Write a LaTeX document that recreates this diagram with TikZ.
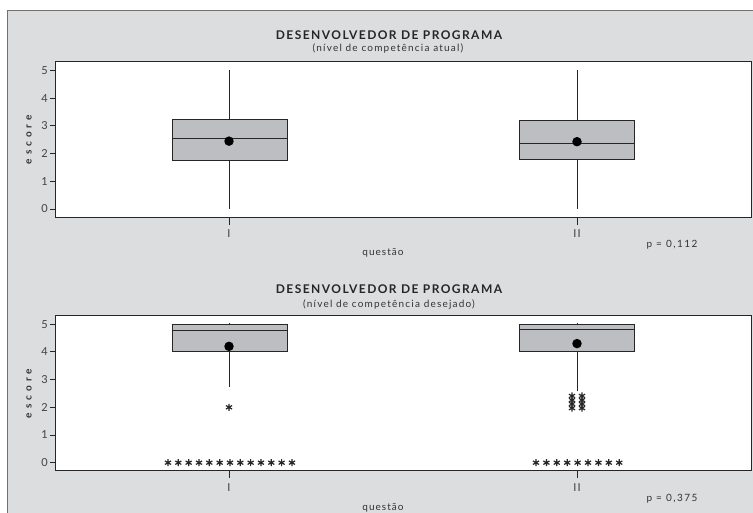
\documentclass[tikz,border=0pt]{standalone}
\usepackage{fontspec}
\setmainfont{Lato}
\definecolor{bgc}{HTML}{DCDDDF}
\definecolor{framec}{HTML}{707070}
\definecolor{boxc}{HTML}{BDBEC1}
\tikzset{
  frameline/.style={draw=framec, line width=1pt},
  plotbox/.style={fill=white, draw=black!85, line width=0.9pt},
  qbox/.style={fill=boxc, draw=black!85, line width=0.9pt},
  whisk/.style={draw=black!85, line width=0.9pt},
  meandot/.style={circle, fill=black, inner sep=0pt, minimum size=9.5pt},
  ticklab/.style={font=\fontsize{11}{11}\selectfont\addfontfeature{LetterSpace=10}, text=black!75, inner sep=0pt},
  ttl/.style={font=\bfseries\fontsize{12}{12}\selectfont\addfontfeature{LetterSpace=12}, text=black!85, inner sep=0pt},
  subttl/.style={font=\fontsize{10}{10}\selectfont\addfontfeature{LetterSpace=12}, text=black!80, inner sep=0pt},
  axlab/.style={font=\fontsize{10}{10}\selectfont\addfontfeature{LetterSpace=10}, text=black!80, inner sep=0pt},
  ylab/.style={font=\bfseries\fontsize{10}{10}\selectfont\addfontfeature{LetterSpace=40}, text=black!80, inner sep=0pt, rotate=90},
  pval/.style={font=\fontsize{10}{10}\selectfont\addfontfeature{LetterSpace=15}, text=black!80, inner sep=0pt},
  ast/.pic={\draw[line width=1.2pt, black!85]
     (0,-3.5pt) -- (0,3.5pt) (-3.05pt,-1.75pt) -- (3.05pt,1.75pt) (-3.05pt,1.75pt) -- (3.05pt,-1.75pt);}
}
\begin{document}
\begin{tikzpicture}[x=1pt,y=-1pt]
\useasboundingbox (0,0) rectangle (753,513);
% outer frame
\fill[bgc] (7,10.7) rectangle (760,520);
\draw[frameline] (7,520) -- (7,10.7) -- (760,10.7);

% ================= TOP PANEL =================
\begin{scope}[shift={(0pt,-209pt)}, y=27.7pt]
  \node[ttl] (t1) at (389,6.28) {DESENVOLVEDOR DE PROGRAMA};
  \node[subttl] (s1) at (388,5.80) {(nível de competência atual)};
  \draw[plotbox] (55,-0.289) rectangle (751,5.343);
  \foreach \v in {0,...,5} {
    \draw[whisk] (50,\v) -- (55,\v);
    \node[ticklab, anchor=east] (ya\v) at (48,\v) {\v};
  }
  \node[ylab] (yl1) at (29,2.5) {escore};
  % x ticks
  \draw[whisk] (229,-0.289) -- (229,-0.56);
  \draw[whisk] (577,-0.289) -- (577,-0.56);
  \node[ticklab] (xa1) at (229,-0.87) {I};
  \node[ticklab] (xa2) at (577,-0.87) {II};
  \node[axlab] (q1) at (383,-1.59) {questão};
  \node[pval] (p1) at (672,-1.30) {p = 0,112};
  % box I
  \draw[whisk] (229,3.25) -- (229,5);
  \draw[whisk] (229,1.75) -- (229,0);
  \draw[qbox] (172,1.75) rectangle (287,3.25);
  \draw[whisk] (172,2.53) -- (287,2.53);
  \node[meandot] (m1) at (229,2.45) {};
  % box II
  \draw[whisk] (577,3.2) -- (577,5);
  \draw[whisk] (577,1.8) -- (577,0);
  \draw[qbox] (519,1.8) rectangle (634,3.2);
  \draw[whisk] (519,2.38) -- (634,2.38);
  \node[meandot] (m2) at (577,2.43) {};
\end{scope}

% ================= BOTTOM PANEL =================
\begin{scope}[shift={(0pt,-462.7pt)}, y=27.7pt]
  \node[ttl] (t2) at (389,6.26) {DESENVOLVEDOR DE PROGRAMA};
  \node[subttl] (s2) at (389,5.70) {(nível de competência desejado)};
  \draw[plotbox] (55,-0.289) rectangle (751,5.33);
  \foreach \v in {0,...,5} {
    \draw[whisk] (50,\v) -- (55,\v);
    \node[ticklab, anchor=east] (yb\v) at (48,\v) {\v};
  }
  \node[ylab] (yl2) at (29,2.5) {escore};
  \draw[whisk] (229,-0.289) -- (229,-0.56);
  \draw[whisk] (577,-0.289) -- (577,-0.56);
  \node[ticklab] (xb1) at (229,-0.91) {I};
  \node[ticklab] (xb2) at (577,-0.91) {II};
  \node[axlab] (q2) at (383,-1.64) {questão};
  \node[pval] (p2) at (672,-1.31) {p = 0,375};
  % box I
  \draw[whisk] (229,5) -- (229,5.05);
  \draw[whisk] (229,4) -- (229,2.75);
  \draw[qbox] (172,4) rectangle (287,5);
  \draw[whisk] (172,4.77) -- (287,4.77);
  \node[meandot] (m3) at (229,4.2) {};
  \pic at (229,2) {ast};
  \foreach \i in {0,...,12} { \pic at (168+\i*10.33,0) {ast}; }
  % box II
  \draw[whisk] (577,5) -- (577,5.05);
  \draw[whisk] (577,4) -- (577,2.6);
  \draw[qbox] (519,4) rectangle (634,5);
  \draw[whisk] (519,4.8) -- (634,4.8);
  \node[meandot] (m4) at (577,4.3) {};
  \foreach \yy in {2.41,2.26,2.12,1.97} {
    \pic at (572,\yy) {ast};
    \pic at (582,\yy) {ast};
  }
  \foreach \i in {0,...,8} { \pic at (536+\i*10.4,0) {ast}; }
\end{scope}
\end{tikzpicture}
\end{document}
